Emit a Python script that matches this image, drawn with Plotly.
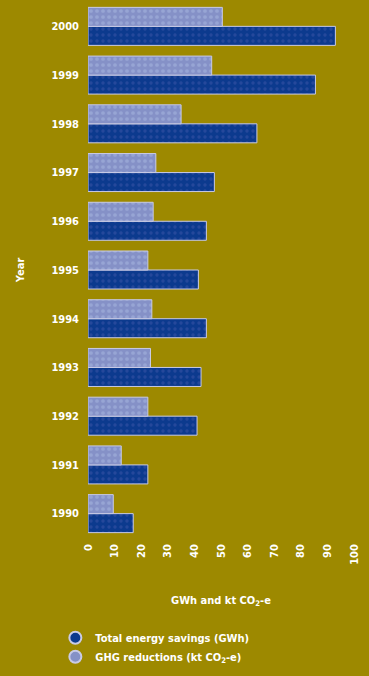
import plotly.graph_objects as go

# Annual results, 1990-2000
years = ["1990", "1991", "1992", "1993", "1994", "1995", "1996", "1997", "1998", "1999", "2000"]
energy_savings_gwh = [17, 22.5, 41, 42.5, 44.5, 41.5, 44.5, 47.5, 63.5, 85.5, 93]
ghg_reductions_kt = [9.5, 12.5, 22.5, 23.5, 24, 22.5, 24.5, 25.5, 35, 46.5, 50.5]
x_ticks = [0, 10, 20, 30, 40, 50, 60, 70, 80, 90, 100]

BG = "#9d8900"
DARK = "#0c3a8e"
LIGHT = "#8591c7"
EDGE = "#c9cbe6"
FONT = "DejaVu Sans Condensed, Liberation Sans, sans-serif"

fig = go.Figure()

fig.add_trace(go.Bar(
    y=years, x=energy_savings_gwh, orientation="h",
    name="Total energy savings (GWh)", showlegend=False,
    marker=dict(color=DARK, line=dict(color=EDGE, width=1),
                pattern=dict(shape=".", fgcolor="#3d55a8", size=6, solidity=0.25)),
))
fig.add_trace(go.Bar(
    y=years, x=ghg_reductions_kt, orientation="h",
    name="GHG reductions (kt CO<sub>2</sub>-e)", showlegend=False,
    marker=dict(color=LIGHT, line=dict(color=EDGE, width=1),
                pattern=dict(shape=".", fgcolor="#a9b9e2", size=6, solidity=0.3)),
))

# Round legend swatches
fig.add_trace(go.Scatter(
    x=[None], y=[None], mode="markers", name="Total energy savings (GWh)",
    marker=dict(symbol="circle", size=10, color=DARK, line=dict(color=EDGE, width=2)),
))
fig.add_trace(go.Scatter(
    x=[None], y=[None], mode="markers", name="GHG reductions (kt CO<sub>2</sub>-e)",
    marker=dict(symbol="circle", size=10, color=LIGHT, line=dict(color=EDGE, width=2)),
))

fig.update_layout(
    width=369, height=676,
    margin=dict(l=88, r=15, t=2, b=138, autoexpand=False),
    paper_bgcolor=BG, plot_bgcolor=BG,
    barmode="group", bargap=0.22, bargroupgap=0,
    font=dict(family=FONT, color="white", size=11),
    xaxis=dict(
        range=[0, 100], tickvals=x_ticks, tickangle=-90,
        showgrid=False, zeroline=False, showline=False, ticks="",
        automargin=False, ticklabelstandoff=3,
        tickfont=dict(family=FONT, size=11, color="white", weight="bold"),
        title=dict(text="GWh and kt CO<sub>2</sub>-e", standoff=32,
                   font=dict(family=FONT, size=11, color="white", weight="bold")),
    ),
    yaxis=dict(
        type="category", categoryorder="array", categoryarray=years,
        range=[-0.5, 10.5], automargin=False,
        showgrid=False, zeroline=False, showline=False, ticks="",
        ticklabelstandoff=8,
        tickfont=dict(family=FONT, size=11, color="white", weight="bold"),
    ),
    annotations=[dict(
        text="Year", textangle=-90, showarrow=False,
        xref="paper", yref="paper", x=-0.255, y=0.5,
        xanchor="center", yanchor="middle",
        font=dict(family=FONT, size=11, color="white", weight="bold"),
    )],
    legend=dict(
        xref="container", yref="container", x=0.15, y=0.078,
        xanchor="left", yanchor="top",
        bgcolor="rgba(0,0,0,0)", itemsizing="constant",
        font=dict(family=FONT, size=11, color="white", weight="bold"),
        tracegroupgap=0,
    ),
    showlegend=True,
)

fig.write_html("out.html")
